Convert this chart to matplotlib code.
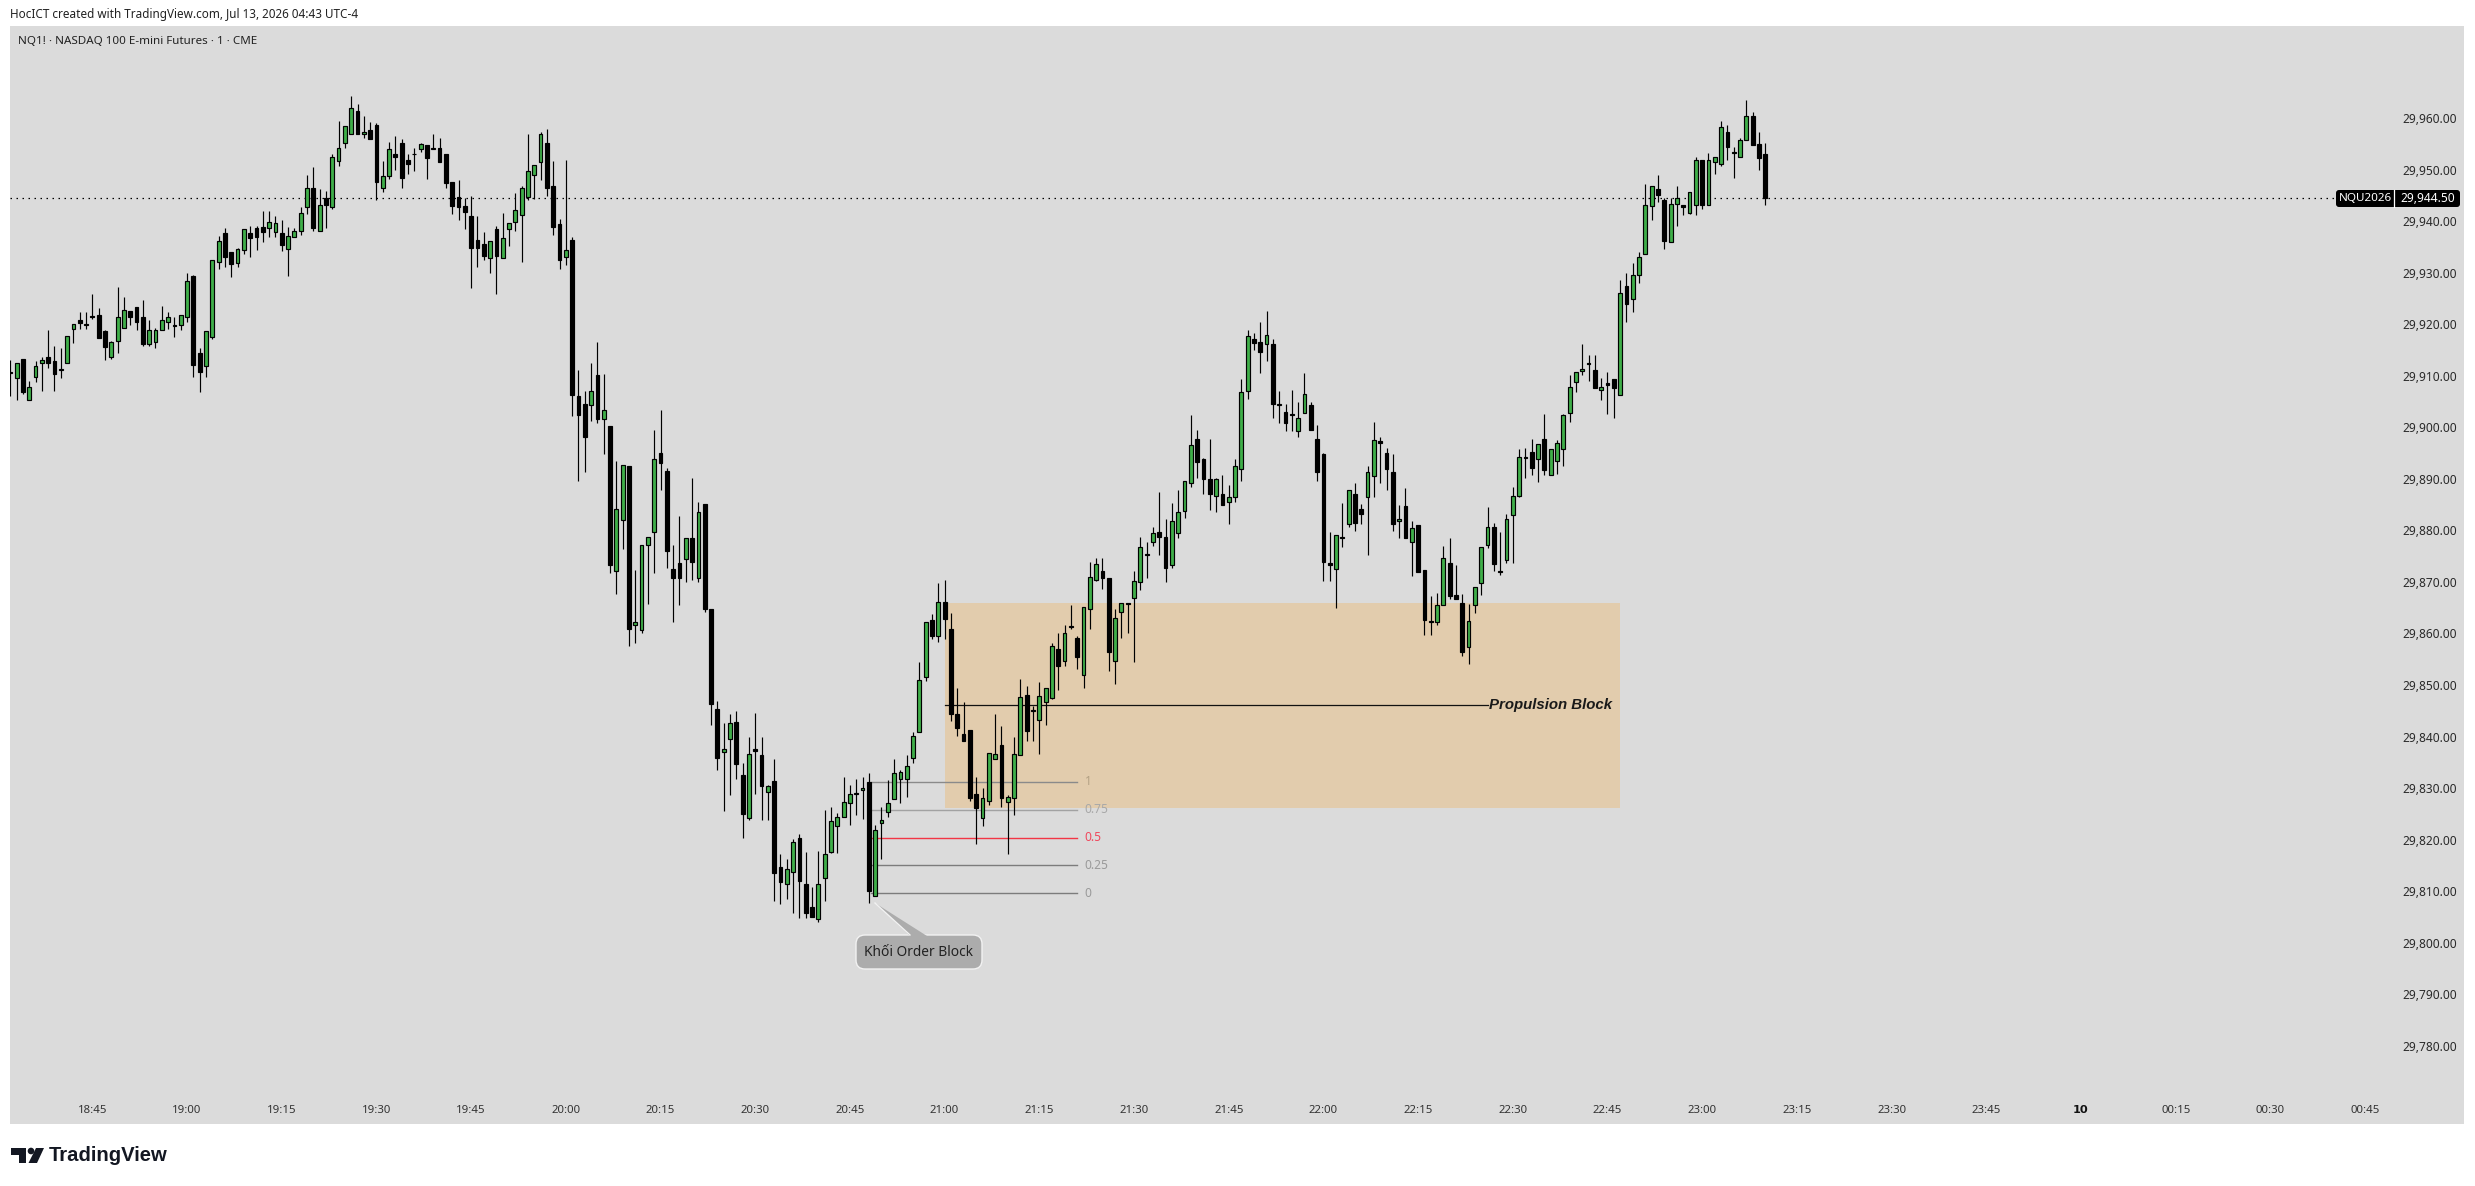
import numpy as np
import matplotlib
matplotlib.use("Agg")
import matplotlib.pyplot as plt
from matplotlib.patches import FancyBboxPatch, Polygon, Rectangle, Circle

# ---------- data: prices are points above this round level, one bar per minute from 18:32 ----------
BASE = 29800.0
open_pts = [
110.7,109.5,113.2,105.2,109.7,112.4,113.6,112.8,111.4,112.4,
119.0,120.8,120.0,121.5,121.7,118.6,113.6,116.7,119.2,122.5,
123.3,121.3,116.1,116.5,118.8,120.4,119.8,119.8,121.3,129.3,
114.5,111.8,117.5,132.0,137.6,134.1,131.8,134.3,137.6,138.6,
138.8,138.6,137.8,137.6,134.5,136.9,138.0,142.7,146.5,138.0,
144.4,142.7,151.6,155.1,156.8,161.3,156.8,157.6,158.6,146.4,
148.7,153.1,155.1,151.8,153.1,153.9,154.7,154.1,154.1,153.0,
147.5,144.6,142.9,140.9,136.3,135.5,132.8,138.4,132.8,138.4,
139.8,141.1,144.6,148.9,151.4,155.1,146.9,139.4,133.0,136.3,
106.0,104.6,104.3,110.1,101.7,100.2,72.1,82.1,92.4,61.6,
60.6,77.1,79.6,95.0,91.6,72.6,73.6,74.4,78.6,70.7,
85.2,64.7,45.3,37.1,39.5,42.8,32.5,24.3,37.5,36.4,
29.2,31.3,14.8,11.5,13.7,20.3,11.5,6.9,4.6,12.5,
17.6,22.6,24.5,27.1,29.0,29.6,31.1,9.0,23.2,25.3,
27.8,31.7,31.7,35.8,40.8,51.5,62.6,59.5,66.1,60.8,
44.3,40.6,41.2,28.8,24.3,27.5,35.6,38.3,27.3,28.0,
36.4,48.0,45.1,43.2,46.8,47.4,56.9,54.6,61.4,59.1,
51.9,64.7,70.3,72.1,70.8,54.6,64.1,65.9,66.8,69.9,
75.4,77.7,79.6,78.7,73.2,79.4,83.7,89.1,97.7,93.8,
89.9,86.6,87.0,85.5,86.4,92.0,107.0,117.1,116.5,116.1,
116.1,104.3,102.9,102.5,99.2,102.7,104.3,97.7,94.8,73.6,
72.6,78.8,81.2,87.0,84.1,86.4,90.5,97.3,95.1,91.3,
81.8,84.7,77.7,81.0,72.4,62.4,62.2,65.5,73.6,67.4,
66.0,57.3,65.5,69.7,77.1,80.6,72.1,74.2,82.9,86.6,
94.2,95.2,93.8,97.7,90.7,93.4,95.7,102.7,108.7,111.0,
112.4,111.2,107.2,108.5,109.3,106.2,127.5,124.8,129.5,133.6,
142.9,146.2,144.0,135.9,143.3,143.1,141.5,143.1,151.8,143.1,
151.4,151.0,157.2,153.5,152.4,155.7,160.3,154.9,153.0]
close_pts = [
110.6,112.4,106.9,107.9,111.8,113.0,112.4,110.3,111.2,117.8,
120.0,120.3,119.8,121.3,117.4,115.5,116.5,121.3,122.7,121.3,
120.4,116.1,118.8,118.8,120.9,121.3,119.6,121.7,128.3,112.0,
110.7,118.6,132.4,136.1,133.0,131.6,134.5,138.4,136.7,136.9,
137.8,139.8,139.6,135.3,137.2,138.0,141.5,146.4,138.6,143.1,
143.1,152.4,154.1,158.4,161.9,156.8,157.2,155.9,147.5,148.7,
153.9,152.4,148.3,151.0,153.0,154.9,152.3,153.9,151.5,147.3,
143.0,142.8,141.8,134.7,134.7,133.3,136.1,133.3,136.7,139.6,
142.1,146.4,149.7,150.8,156.8,146.4,138.8,132.4,134.3,106.2,
102.3,98.2,107.0,101.7,103.3,73.2,84.1,92.6,60.8,62.2,
77.1,78.8,93.8,93.0,76.1,70.7,70.7,78.5,73.8,83.5,
64.7,46.3,35.8,37.5,42.6,34.6,24.9,36.6,37.3,30.5,
30.4,13.5,11.7,14.3,19.5,11.9,5.7,5.1,11.5,17.2,
23.6,24.5,27.4,28.8,28.8,30.0,10.0,21.8,23.8,27.1,
32.9,33.1,34.2,40.1,50.9,62.2,59.5,66.1,62.9,44.3,
41.6,39.1,28.0,26.1,28.0,36.8,36.6,28.0,28.2,36.6,
47.6,41.0,44.9,47.8,49.4,57.5,53.6,60.0,61.2,55.4,
65.1,70.9,73.5,70.7,56.4,63.0,65.9,65.7,70.1,76.7,
75.2,79.4,78.7,72.8,81.8,83.5,89.5,96.5,93.2,89.9,
87.0,89.9,84.9,86.4,92.4,106.8,117.8,116.4,114.7,118.0,
104.5,104.6,100.8,102.3,101.9,106.4,99.4,91.3,73.8,73.2,
79.2,78.6,87.8,81.4,83.1,91.4,97.5,96.9,92.0,81.2,
82.3,78.6,80.4,71.9,62.6,62.2,65.5,74.6,67.2,66.6,
56.5,62.4,69.0,76.7,80.6,73.4,71.9,82.2,86.6,94.2,
94.1,92.2,96.7,91.7,95.7,96.9,102.3,107.9,110.7,111.4,
112.3,107.7,107.9,108.3,107.7,126.0,123.9,129.5,133.0,143.1,
146.9,145.0,136.2,143.3,144.4,142.8,145.6,151.8,143.1,151.8,
152.4,158.2,154.3,153.3,155.7,160.3,154.7,152.2,144.5]
high_pts = [
113.1,112.4,113.2,108.9,112.8,113.6,118.8,115.8,115.3,117.8,
120.0,122.3,122.3,125.9,123.1,118.8,116.7,127.3,125.2,122.5,
123.3,124.6,120.8,119.2,123.5,122.3,121.3,121.7,129.9,129.5,
115.3,118.6,132.4,137.2,138.6,134.1,134.7,138.4,139.0,139.0,
141.9,141.9,140.9,140.2,138.8,138.6,142.7,148.9,150.4,146.2,
145.8,153.1,159.5,158.4,164.2,162.7,160.3,159.2,159.0,151.6,
155.3,156.6,155.9,153.0,154.1,155.1,154.8,156.8,156.1,153.0,
147.5,147.9,144.4,144.8,140.9,137.8,136.1,139.0,141.5,139.6,
145.4,146.9,156.8,150.8,157.2,157.8,151.6,140.5,151.8,136.9,
111.2,107.0,112.4,116.5,110.3,100.2,93.4,92.6,92.4,72.4,
77.1,78.8,99.4,103.3,92.2,77.1,82.7,78.5,90.1,85.6,
85.2,64.7,47.0,42.6,44.3,44.9,34.8,39.9,44.5,39.9,
30.7,35.6,17.2,16.2,20.1,21.2,17.6,10.8,17.8,25.7,
26.3,25.1,32.1,30.7,31.7,32.1,32.9,22.8,26.3,31.5,
35.6,33.5,36.4,40.8,54.4,62.2,63.7,69.7,70.3,63.9,
49.4,46.7,41.2,32.1,30.0,36.8,44.3,42.0,28.6,39.9,
51.1,49.8,45.9,50.5,49.4,58.1,60.0,61.6,65.5,59.5,
65.1,73.9,74.6,74.6,70.8,64.7,65.9,65.9,72.1,78.7,
77.7,80.6,87.4,82.2,85.3,87.8,89.5,102.3,99.4,94.0,
97.7,90.1,90.7,88.8,93.8,109.3,118.8,118.2,120.4,122.5,
117.1,107.0,104.5,107.2,105.0,110.5,105.0,100.4,95.0,79.6,
79.2,85.4,87.8,89.1,85.2,92.4,101.0,98.2,95.9,94.8,
84.9,88.2,81.8,81.0,72.4,67.2,67.8,76.9,78.6,73.2,
67.6,65.7,69.0,76.7,84.5,81.4,79.6,83.1,88.4,95.7,
95.9,97.7,96.7,102.5,95.7,97.5,102.5,110.1,110.7,116.1,
114.0,114.0,109.5,110.7,109.3,128.5,129.9,131.8,134.1,147.1,
146.9,148.9,144.4,144.4,146.9,143.1,145.6,152.4,151.8,153.3,
152.4,159.4,158.6,154.3,156.1,163.4,161.1,157.2,155.1]
low_pts = [
106.1,105.3,106.5,105.2,108.8,107.0,111.6,107.0,109.6,112.4,
116.4,119.1,119.0,121.1,117.4,113.1,113.3,114.5,119.2,119.9,
118.9,115.7,115.8,115.4,118.8,119.1,117.6,118.8,120.5,109.8,
106.9,109.8,117.2,130.8,131.0,129.2,131.0,133.7,133.1,134.4,
135.9,137.0,137.0,134.2,129.4,136.9,137.3,141.4,138.1,138.0,
138.7,142.4,150.6,154.2,156.8,156.8,156.1,155.9,144.0,145.6,
148.2,150.0,146.5,149.2,149.8,153.5,148.2,153.9,151.5,146.4,
141.4,140.2,138.5,127.1,131.0,132.5,130.0,125.9,132.8,135.2,
138.1,132.1,144.0,144.2,148.0,144.9,137.4,130.8,131.4,102.1,
89.6,91.4,101.3,100.9,94.9,71.8,67.7,76.3,57.6,58.2,
60.0,65.8,71.8,87.9,72.8,62.3,65.6,69.9,70.4,69.9,
64.2,42.2,33.5,25.6,28.7,31.8,20.4,23.9,28.8,23.8,
23.8,8.2,7.5,8.4,5.7,4.8,4.9,5.1,4.0,8.2,
17.4,17.4,24.5,22.8,24.7,24.0,7.7,9.0,16.2,24.5,
27.8,27.2,28.2,34.8,40.8,50.7,58.9,58.3,58.9,43.0,
40.1,39.1,27.6,19.1,22.7,26.7,35.6,26.3,17.2,24.7,
36.4,39.2,39.1,36.6,42.2,47.2,49.0,53.6,60.8,53.1,
49.4,60.8,70.1,68.7,52.8,50.3,59.2,60.0,54.5,68.5,
70.8,77.0,75.3,69.9,72.8,78.6,82.5,88.5,90.2,87.1,
84.0,83.6,84.9,81.3,85.6,89.6,105.4,114.9,110.6,112.9,
101.9,100.9,99.2,99.3,98.2,102.7,99.4,89.6,70.2,70.2,
65.0,76.8,80.6,79.9,81.3,75.3,86.4,89.1,87.9,79.9,
78.6,78.6,71.2,71.9,59.8,59.8,61.6,65.5,66.6,66.6,
55.7,54.0,63.9,67.4,76.5,72.2,71.3,73.7,73.7,86.4,
90.2,90.8,89.3,90.8,90.7,91.0,92.4,101.1,106.9,110.1,
108.9,107.7,105.2,102.6,101.9,106.2,120.5,122.4,127.9,133.6,
140.3,143.8,134.5,135.9,139.1,141.1,141.3,141.1,142.4,143.1,
149.2,150.6,151.8,148.4,152.4,155.7,154.7,150.0,143.1]

price_ticks = list(range(29780, 29961, 10))
time_ticks = [13 + 15 * i for i in range(25)]   # bars since 18:32
time_labels = ["18:45","19:00","19:15","19:30","19:45","20:00","20:15","20:30","20:45",
               "21:00","21:15","21:30","21:45","22:00","22:15","22:30","22:45","23:00",
               "23:15","23:30","23:45","10","00:15","00:30","00:45"]
last_price = 29944.5
zone_left, zone_right, zone_low, zone_high = 148.05, 255.0, 29826.2, 29865.9
propulsion_price = 29846.1
propulsion_start, propulsion_end = 148.0, 234.0
fib_start, fib_end = 136.4, 169.0
fib_levels = ["1", "0.75", "0.5", "0.25", "0"]
fib_prices = [29831.2, 29825.8, 29820.4, 29815.0, 29809.6]
fib_line_colors = ["#8a8a8a", "#a2a2a2", "#f23645", "#7c7c7c", "#7c7c7c"]
fib_text_colors = ["#b3a184", "#a8a8a8", "#f0475c", "#9a9a9a", "#9a9a9a"]

# ---------- styling ----------
W, H = 2475, 1186
BG = "#dbdbdb"
GREEN = "#3fae49"
FONT = ["Noto Sans", "DejaVu Sans"]
plt.rcParams["font.family"] = FONT

o = BASE + np.array(open_pts)
c = BASE + np.array(close_pts)
hi = BASE + np.array(high_pts)
lo = BASE + np.array(low_pts)
idx = np.arange(len(o))

fig = plt.figure(figsize=(W / 100, H / 100), dpi=100, facecolor="white")
L, R, T, B = 10, 2464, 26, 1124
ax = fig.add_axes([L / W, 1 - B / H, (R - L) / W, (B - T) / H], facecolor=BG)
bar_px = 6.313
ax.set_xlim((L - 10.3) / bar_px, (R - 10.3) / bar_px)
ax.set_ylim(29960 - (B - 118) / 5.155, 29960 + (118 - T) / 5.155)
for s in ax.spines.values():
    s.set_visible(False)

ax.add_patch(Rectangle((zone_left, zone_low), zone_right - zone_left, zone_high - zone_low,
                       facecolor="#e2ccad", edgecolor="none", zorder=1))
ax.plot([propulsion_start, propulsion_end], [propulsion_price] * 2, color="#111111", lw=0.9, zorder=2)
ax.text(propulsion_end + 0.3, propulsion_price, "Propulsion Block", fontsize=10.8, fontweight="bold",
        fontstyle="italic", family="Liberation Sans", color="#1a1a1a", va="center", ha="left", zorder=2)

for lab, p, lc, tc in zip(fib_levels, fib_prices, fib_line_colors, fib_text_colors):
    ax.plot([fib_start, fib_end], [p, p], color=lc, lw=1.0, zorder=2)
    ax.text(fib_end + 1.2, p, lab, fontsize=8.6, color=tc, va="center", ha="left", zorder=2)

ax.axhline(last_price, color="black", lw=0.9, dashes=(1.2, 3.6), zorder=2)

up = c >= o
colors = np.where(up, GREEN, "black")
ax.vlines(idx, lo, hi, color="black", lw=0.85, zorder=3)
ax.bar(idx, np.abs(c - o), bottom=np.minimum(o, c), width=0.6, color=colors,
       edgecolor="black", linewidth=0.85, zorder=4)

ax.yaxis.tick_right()
ax.set_yticks(price_ticks)
ax.set_yticklabels([f"{p:,.2f}" for p in price_ticks])
ax.tick_params(axis="y", length=0, pad=-44.6, labelsize=8.6, labelcolor="#2a2a2a")
ax.set_xticks(time_ticks)
ax.set_xticklabels(time_labels)
ax.tick_params(axis="x", length=0, pad=-14, labelsize=8.2, labelcolor="#333333")
for t in ax.get_xticklabels():
    if t.get_text() == "10":
        t.set_family("DejaVu Sans")
        t.set_fontweight("bold")
        t.set_color("#111111")

# ---------- overlay furniture in pixel coordinates ----------
ov = fig.add_axes([0, 0, 1, 1], facecolor="none")
ov.set_xlim(0, W)
ov.set_ylim(H, 0)
ov.axis("off")

ov.text(10, 14.5, "HocICT created with TradingView.com, Jul 13, 2026 04:43 UTC-4", fontsize=8.45,
        color="#222222", va="center", ha="left")
ov.text(18, 41.5, "NQ1! · NASDAQ 100 E-mini Futures · 1 · CME", fontsize=8.35,
        color="#222222", va="center", ha="left")

# price tag
ov.add_patch(FancyBboxPatch((2336, 190), 124, 17, boxstyle="round,pad=0,rounding_size=3",
                            facecolor="black", edgecolor="none", zorder=5))
ov.plot([2394, 2394], [190, 207], color="white", lw=0.9, zorder=6)
ov.text(2365, 198.5, "NQU2026", color="white", fontsize=8.4, ha="center", va="center", zorder=6)
ov.text(2428, 198.5, f"{last_price:,.2f}", color="white", fontsize=8.6, ha="center", va="center", zorder=6)

# callout
ov.add_patch(FancyBboxPatch((856, 935), 126, 34, boxstyle="round,pad=0,rounding_size=9",
                            facecolor="#acacac", edgecolor="#f2f2f2", lw=1.0, zorder=5))
ov.add_patch(Polygon([(875, 903), (910, 936), (927, 936)], closed=True, facecolor="#acacac",
                     edgecolor="none", zorder=6))
ov.plot([875, 910], [903, 935], color="#f2f2f2", lw=1.0, zorder=6)
ov.text(919, 952, "Khối Order Block", fontsize=9.9, color="#222222", ha="center", va="center", zorder=7)

# TradingView logo
ov.add_patch(Rectangle((11, 1148), 15, 6.5, facecolor="#131722", edgecolor="none"))
ov.add_patch(Rectangle((18.5, 1148), 7.5, 15, facecolor="#131722", edgecolor="none"))
ov.add_patch(Circle((31, 1151), 3.3, facecolor="#131722", edgecolor="none"))
ov.add_patch(Polygon([(36, 1148), (44, 1148), (37, 1163), (28.5, 1163)], closed=True,
                     facecolor="#131722", edgecolor="none"))
ov.text(49, 1155.5, "TradingView", fontsize=14.6, fontweight="bold", family="Liberation Sans",
        color="#131722", ha="left", va="center")

fig.savefig("out.png", dpi=100, facecolor="white")
